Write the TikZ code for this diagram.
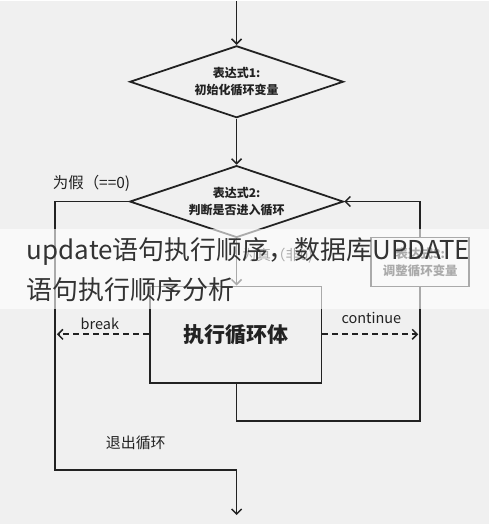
\documentclass[tikz,border=0pt]{standalone}
\usepackage{fontspec}
\usepackage{xcolor}
\usetikzlibrary{shapes.geometric,arrows.meta}
\newfontfamily\cjk{Noto Sans CJK SC}
\definecolor{bg}{HTML}{F0F0F0}
\definecolor{ink}{HTML}{222222}

\begin{document}
\begin{tikzpicture}[x=1pt,y=-1pt,line width=1.8pt,draw=ink,text=ink,
  cond/.style={diamond,draw=ink,inner sep=0pt,aspect=3,minimum width=214pt,minimum height=72pt,align=center,font=\cjk\bfseries\fontsize{12}{17}\selectfont},
  stepbox/.style={draw=ink,inner sep=0pt,align=center},
  lbl/.style={font=\cjk\fontsize{14.5}{17}\selectfont,inner sep=0pt},
  arr/.style={-{Straight Barb[length=5pt,width=10pt,line width=1.5pt]}},
  jump/.style={arr,dash pattern=on 6pt off 4pt}]
\fill[bg] (0,0) rectangle (490,524);
% the three boxes of the loop
\node[cond] (d1) at (237,81) {表达式1:\\初始化循环变量};
\node[cond] (d2) at (237,201) {表达式2:\\判断是否进入循环};
\node[stepbox,minimum width=172pt,minimum height=97pt,font=\cjk\bfseries\fontsize{21}{25}\selectfont] (body) at (236,334.5) {执行循环体};
\node[stepbox,minimum width=98pt,minimum height=49pt,font=\cjk\bfseries\fontsize{12.5}{17}\selectfont] (adj) at (421,261.5) {表达式3:\\调整循环变量};
\coordinate (top) at (237,0);
\coordinate (nw) at (55,201);
\coordinate (sw) at (55,470);
\coordinate (exit) at (237,470);
\coordinate (out) at (237,515);
\coordinate (lb) at (237,421);
\coordinate (rb) at (421,421);
\coordinate (rt) at (421,201);
% connectors
\draw[arr] (top) -- (d1.north);
\draw[arr] (d1.south) -- (d2.north);
\draw[arr] (d2.south) -- (d2.south |- body.north);
\draw[arr] (d2.west) -- (nw) -- (sw) -- (exit) -- (out);
\draw (body.south -| lb) -- (lb) -- (rb) -- (adj.south);
\draw[arr] (adj.north) -- (rt) -- (d2.east);
\draw[jump] (body.west |- 0,334) -- (57,334);
\draw[jump] (body.east |- 0,334) -- (419,334);
% labels
\node[lbl,anchor=west,font=\cjk\fontsize{15.5}{17}\selectfont] (no) at (52,183) {为假（==0)};
\node[lbl] (yes) at (278,255) {为真（非0)};
\node[lbl] (brk) at (100,323) {break};
\node[lbl] (cont) at (372,318) {continue};
\node[lbl,font=\cjk\fontsize{15}{17}\selectfont] (quit) at (136,443) {退出循环};
% banner over the picture
\fill[white,opacity=0.62] (0,228) rectangle (490,309);
\node[anchor=west,inner sep=0pt,text=black!80,font=\cjk\fontsize{26}{30}\selectfont] (title1) at (26,251) {update语句执行顺序，数据库UPDATE};
\node[anchor=west,inner sep=0pt,text=black!80,font=\cjk\fontsize{26}{30}\selectfont] (title2) at (26,289) {语句执行顺序分析};
\end{tikzpicture}
\end{document}
